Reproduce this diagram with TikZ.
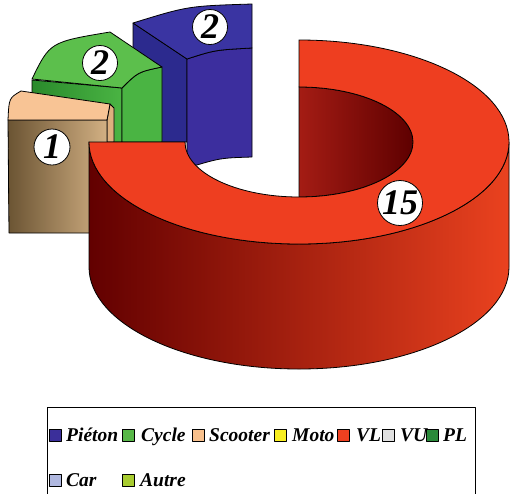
\documentclass[tikz,border=0pt]{standalone}
\usepackage{fontspec}
\setmainfont{Liberation Serif}
\definecolor{redtop}{HTML}{EE3E20}
\definecolor{reddark}{HTML}{620000}
\definecolor{redmid}{HTML}{8A0C06}
\definecolor{redlight}{HTML}{EA421F}
\definecolor{holelight}{HTML}{A41C14}
\definecolor{holedark}{HTML}{5E0000}
\definecolor{bluetop}{HTML}{3A34A2}
\definecolor{blueside}{HTML}{2C2A8E}
\definecolor{blueinner}{HTML}{3C2E9E}
\definecolor{greentop}{HTML}{5CBF4C}
\definecolor{greenside}{HTML}{2A8A2C}
\definecolor{greeninner}{HTML}{4AB443}
\definecolor{tantop}{HTML}{F8C495}
\definecolor{tanside}{HTML}{DDB07E}
\definecolor{tandark}{HTML}{6B5433}
\definecolor{tanlight}{HTML}{D2B083}
\definecolor{legPieton}{HTML}{3B2F9A}
\definecolor{legCycle}{HTML}{58B848}
\definecolor{legScooter}{HTML}{F8C08C}
\definecolor{legMoto}{HTML}{F8EE20}
\definecolor{legVL}{HTML}{EE4020}
\definecolor{legVU}{HTML}{E0E0E0}
\definecolor{legPL}{HTML}{2A8A3A}
\definecolor{legCar}{HTML}{B0B8E0}
\definecolor{legAutre}{HTML}{A8CC30}
\begin{document}
\begin{tikzpicture}[x=1pt,y=1pt,yscale=-1,line join=round,
  edge/.style={draw=black,line width=0.8pt},
  numcirc/.style={circle,draw=black,line width=0.8pt,fill=white,inner sep=0pt,
    font=\fontsize{36}{36}\selectfont\bfseries\itshape},
  legsq/.style={draw=black,line width=0.4pt,minimum size=12pt,inner sep=0pt,anchor=south west},
  legtxt/.style={inner sep=0pt,anchor=base west,font=\fontsize{19.5}{22}\selectfont\bfseries\itshape}]
\useasboundingbox (0,0) rectangle (510,493);
% ---- blue slice (Pieton)
\path[edge,fill=blueside] (133,23) -- (187,59) -- (187,142) -- (133,142) -- cycle;
\path[edge,fill=blueinner] (187,59) .. controls (215,50) .. (252,48) -- (252,157) .. controls (220,158) .. (187,168) -- cycle;
\path[edge,fill=bluetop] (133,23) .. controls (188,6) .. (252,4) -- (252,48) .. controls (215,50) .. (187,59) -- cycle;
% ---- green slice (Cycle)
\path[edge,left color=greenside,right color=greeninner] (32,80) -- (122,88) -- (122,142) -- (32,142) -- cycle;
\path[edge,fill=greeninner] (122,88) .. controls (138,72) .. (162,67) -- (162,142) -- (122,142) -- cycle;
\path[edge,fill=greentop] (32,79) .. controls (50,42) .. (110,32) -- (162,67) .. controls (138,72) .. (122,88) -- cycle;
% ---- tan slice (Scooter)
\path[edge,fill=tanside] (107,120) -- (110,104) -- (114,108) -- (114,142) -- (107,142) -- cycle;
\path[edge,left color=tandark,right color=tanlight] (8,120) -- (107,120) -- (107,233) -- (9,233) -- cycle;
\path[edge,fill=tantop] (8,120) .. controls (9,98) .. (21,91) -- (110,104) -- (107,120) -- cycle;
% ---- red slice (VL)
\path[edge,left color=holelight,right color=holedark] (299,87) arc[start angle=-90,end angle=90,x radius=114pt,y radius=55pt] -- cycle;
\path[edge,left color=reddark,middle color=redmid,right color=redlight] (89,142) arc[start angle=180,end angle=0,x radius=210pt,y radius=102pt] -- (509,267) arc[start angle=0,end angle=180,x radius=210pt,y radius=102pt] -- cycle;
\path[edge,fill=redtop] (299,40) arc[start angle=-90,end angle=180,x radius=210pt,y radius=102pt] -- (185,142) arc[start angle=180,end angle=-90,x radius=114pt,y radius=55pt] -- cycle;
% ---- value labels
\node[numcirc,minimum size=35pt] (lblue) at (210,27) {2};
\node[numcirc,minimum size=35pt] (lgreen) at (100,63) {2};
\node[numcirc,minimum size=36pt] (ltan) at (52,147) {1};
\node[numcirc,minimum size=45pt] (lred) at (400,203) {15};
% ---- legend
\draw[line width=0.8pt] (47,495) -- (47,407) -- (475,407) -- (475,495);
\node[legsq,fill=legPieton] (s1) at (49,441) {};
\node[legtxt] (t1) at (66,441) {Piéton};
\node[legsq,fill=legCycle] (s2) at (122,441) {};
\node[legtxt] (t2) at (141,441) {Cycle};
\node[legsq,fill=legScooter] (s3) at (192,441) {};
\node[legtxt] (t3) at (209,441) {Scooter};
\node[legsq,fill=legMoto] (s4) at (274,441) {};
\node[legtxt] (t4) at (292,441) {Moto};
\node[legsq,fill=legVL] (s5) at (337,441) {};
\node[legtxt] (t5) at (356,441) {VL};
\node[legsq,fill=legVU] (s6) at (382,441) {};
\node[legtxt] (t6) at (400,441) {VU};
\node[legsq,fill=legPL] (s7) at (426,441) {};
\node[legtxt] (t7) at (443,441) {PL};
\node[legsq,fill=legCar] (s8) at (49,486) {};
\node[legtxt] (t8) at (66,486) {Car};
\node[legsq,fill=legAutre] (s9) at (122,486) {};
\node[legtxt] (t9) at (140,486) {Autre};
\end{tikzpicture}
\end{document}
